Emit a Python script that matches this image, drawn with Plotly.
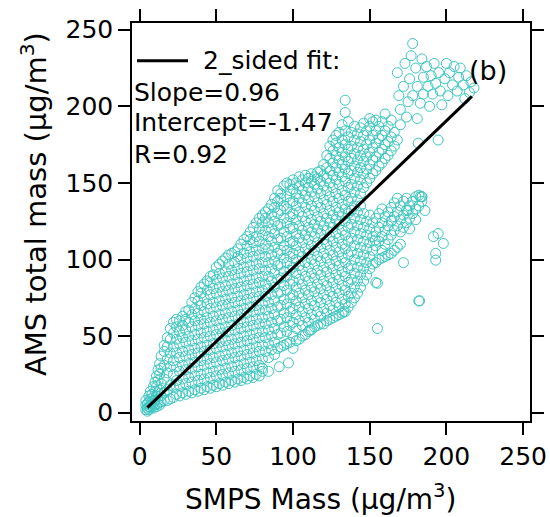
import plotly.graph_objects as go

# ---------------- data ----------------
# SMPS mass (x) values, one per column of the point cloud
smps_cols = [4, 5, 6, 7, 8, 9, 10, 11, 12, 13, 14, 16, 18, 20, 22, 24, 26, 28, 30, 32,
             34, 36, 38, 40, 42, 44, 46, 48, 50, 52, 54, 56, 58, 60, 62, 64, 66, 68, 70, 72,
             74, 76, 78, 80, 82, 84, 86, 88, 90, 92, 94, 96, 98, 100, 102, 104, 106, 108, 110, 112,
             114, 116, 118, 120, 122, 124, 126, 128, 130, 132, 134, 136, 138, 140, 142, 144, 146, 148, 150, 152,
             154, 156, 158, 160, 162, 164, 166, 168, 170, 172, 174, 176, 178, 180, 182, 184, 186]
# AMS total mass (y) values for each column above
ams_cols = [
    [2, 5, 8], [3, 6, 1], [2, 4, 7, 11], [3, 5, 9, 14], [4, 7, 12], [3, 6, 10, 17],
    [5, 8, 14, 20], [4, 11, 17, 24], [6, 9, 13, 21, 28], [5, 15, 25, 32], [7, 11, 19, 29, 37],
    [8, 13, 22, 31, 40, 44], [8, 15, 26, 35, 43, 49], [9, 18, 30, 39, 48, 55],
    [10, 17, 25, 34, 43, 52, 59], [12, 21, 30, 39, 48, 56, 61],
    [11, 18, 27, 36, 45, 53, 60], [13, 22, 31, 40, 49, 57, 63],
    [12, 19, 28, 37, 46, 54, 61, 66], [14, 23, 32, 41, 50, 59, 67],
    [13, 20, 29, 38, 47, 56, 64, 72], [15, 24, 33, 42, 51, 60, 68, 75],
    [14, 21, 30, 39, 48, 57, 65, 73, 79], [16, 25, 34, 43, 52, 61, 70, 78, 82],
    [15, 22, 31, 40, 49, 58, 66, 75, 84], [17, 26, 35, 44, 53, 62, 71, 80, 86],
    [16, 23, 32, 41, 50, 59, 68, 77, 85, 89], [18, 27, 36, 45, 54, 63, 72, 81, 90],
    [17, 24, 33, 42, 51, 60, 69, 78, 87, 95], [19, 28, 37, 46, 55, 64, 73, 82, 91, 97],
    [18, 25, 34, 43, 52, 61, 70, 79, 88, 99], [20, 29, 38, 47, 56, 65, 74, 83, 92, 101],
    [19, 26, 35, 44, 53, 62, 71, 80, 89, 97, 103], [21, 30, 39, 48, 57, 66, 75, 84, 93, 104],
    [20, 27, 36, 45, 54, 63, 72, 81, 90, 98, 105], [22, 31, 40, 49, 58, 67, 76, 85, 94, 102, 107],
    [21, 28, 37, 46, 55, 64, 73, 82, 91, 100, 110], [23, 32, 41, 50, 59, 68, 77, 86, 95, 104, 113],
    [22, 29, 38, 47, 56, 65, 74, 83, 92, 101, 109, 115], [24, 33, 42, 51, 60, 69, 78, 87, 96, 105, 113, 118],
    [23, 30, 39, 48, 57, 66, 75, 84, 93, 102, 111, 121], [25, 34, 43, 52, 61, 70, 79, 88, 97, 106, 115, 124],
    [24, 31, 40, 49, 58, 67, 76, 85, 94, 103, 112, 120, 127], [27, 35, 44, 53, 62, 71, 80, 89, 98, 107, 116, 124, 129],
    [40, 49, 58, 67, 76, 84, 93, 102, 110, 119, 127, 131], [36, 45, 54, 63, 72, 81, 89, 98, 107, 115, 124, 133],
    [41, 50, 59, 68, 77, 86, 94, 103, 112, 120, 129, 136], [38, 46, 55, 64, 73, 82, 91, 99, 108, 117, 125, 134, 140],
    [42, 51, 60, 69, 78, 87, 96, 104, 113, 122, 130, 138, 145], [43, 52, 61, 70, 79, 88, 97, 106, 114, 123, 132, 140, 143],
    [44, 56, 65, 74, 83, 92, 101, 109, 118, 127, 135, 148], [45, 53, 62, 71, 80, 89, 98, 106, 115, 124, 133, 141, 150],
    [46, 57, 66, 75, 84, 93, 102, 111, 120, 128, 137, 145, 149], [42, 50, 59, 68, 77, 86, 95, 104, 112, 121, 130, 138, 146, 152],
    [47, 55, 64, 73, 82, 91, 100, 109, 117, 126, 135, 143, 150], [48, 60, 69, 78, 87, 96, 105, 114, 122, 131, 140, 148, 154],
    [50, 57, 66, 75, 84, 93, 102, 111, 119, 128, 137, 145, 152], [51, 62, 71, 80, 89, 98, 107, 116, 125, 134, 142, 150, 155],
    [53, 59, 68, 77, 86, 95, 104, 113, 121, 130, 139, 147, 153], [54, 64, 73, 82, 91, 100, 109, 118, 126, 135, 144, 151, 156],
    [56, 61, 70, 79, 88, 97, 106, 115, 123, 132, 141, 149, 154], [57, 66, 75, 84, 93, 102, 111, 120, 128, 137, 146, 153, 157],
    [58, 63, 72, 81, 90, 99, 108, 117, 125, 134, 143, 151, 158], [58, 68, 77, 86, 95, 104, 113, 122, 130, 139, 148, 155, 162],
    [60, 65, 74, 83, 92, 101, 110, 119, 127, 136, 145, 153, 160, 168], [61, 70, 79, 88, 97, 106, 115, 124, 132, 141, 150, 158, 166, 174],
    [62, 67, 76, 85, 94, 103, 112, 121, 129, 138, 147, 155, 163, 171, 178], [63, 72, 81, 90, 99, 108, 117, 126, 134, 143, 152, 160, 168, 176, 181],
    [64, 69, 78, 87, 96, 105, 114, 123, 131, 140, 149, 157, 165, 173, 183], [65, 74, 83, 92, 101, 110, 119, 128, 136, 145, 154, 162, 170, 178, 188],
    [66, 71, 80, 89, 98, 107, 116, 125, 133, 142, 151, 159, 167, 175, 184, 196, 204], [69, 76, 85, 94, 103, 112, 121, 130, 138, 147, 156, 164, 172, 180, 190],
    [72, 78, 87, 96, 105, 114, 123, 132, 140, 149, 158, 166, 174, 183], [75, 82, 91, 100, 109, 118, 127, 135, 144, 153, 161, 169, 178, 187],
    [78, 86, 95, 104, 113, 122, 131, 139, 148, 157, 165, 173, 182], [82, 90, 99, 108, 117, 126, 135, 143, 152, 160, 168, 177, 186],
    [86, 94, 103, 112, 121, 130, 147, 156, 164, 172, 181, 189], [90, 98, 107, 116, 125, 150, 159, 167, 175, 184],
    [94, 102, 111, 120, 129, 153, 162, 170, 178, 187, 192], [97, 106, 115, 124, 156, 165, 173, 181, 190],
    [85, 98, 109, 118, 127, 158, 167, 176, 184, 191], [100, 112, 121, 130, 161, 170, 179, 187],
    [101, 106, 115, 124, 133, 163, 172, 181, 190], [102, 110, 119, 128, 166, 175, 184, 195],
    [103, 113, 122, 131, 168, 177, 187], [104, 116, 125, 134, 171, 180, 191],
    [106, 119, 128, 137, 174, 183], [108, 122, 131, 140, 178],
    [110, 118, 126, 135], [98, 121, 129, 138], [124, 132, 140], [120, 127, 135],
    [130, 138], [126, 133, 141], [135, 73, 142], [138, 141], [132],
]

# upper-right group of points
smps_top_group = [168, 169, 170, 172, 173, 175, 176, 177, 178, 178, 180, 181, 181, 183, 184, 185,
                  185, 187, 188, 189, 190, 191, 192, 193, 195, 196, 197, 199, 200, 201, 202, 204,
                  205, 207, 208, 209, 211, 212, 213, 215, 216, 218, 170, 174]
ams_top_group = [222, 207, 198, 213, 228, 203, 218, 233, 241, 207, 225, 213, 192, 202, 231, 219,
                 208, 226, 213, 200, 220, 208, 228, 215, 222, 210, 201, 218, 228, 207, 222, 214,
                 226, 210, 219, 225, 214, 205, 220, 209, 216, 212, 188, 193]

# isolated points
smps_isolated = [80, 84, 91, 97, 155, 155, 182.5, 193, 193, 191.6, 198, 194.6, 181.6, 194.6,
                 183, 133, 111, 175, 164.5, 153.6, 184]
ams_isolated = [29, 27, 30, 32.5, 84.5, 55, 73, 99.6, 104, 115, 110.5, 117, 176, 178,
                141, 66, 54, 132, 125.7, 112.7, 141]

# two-sided fit results
fit_slope = 0.96
fit_intercept = -1.47
fit_r = 0.92
fit_smps_ends = [5, 216.6]

x_ticks = [0, 50, 100, 150, 200, 250]
y_ticks = [0, 50, 100, 150, 200, 250]

# ---------------- build ----------------
smps, ams = [], []
for xv, ys in zip(smps_cols, ams_cols):
    smps += [xv] * len(ys)
    ams += ys
smps += smps_top_group + smps_isolated
ams += ams_top_group + ams_isolated

fit_ams = [fit_slope * v + fit_intercept for v in fit_smps_ends]

CYAN = "#3ec6c1"
FONT = "DejaVu Sans"

fig = go.Figure()
fig.add_trace(go.Scatter(
    x=smps, y=ams, mode="markers",
    marker=dict(symbol="circle-open", size=10, color=CYAN, line=dict(width=1, color=CYAN)),
    showlegend=False, hoverinfo="skip"))
fig.add_trace(go.Scatter(
    x=fit_smps_ends, y=fit_ams, mode="lines",
    line=dict(color="black", width=3), name="2_sided fit:", showlegend=False))

L, R, T, B = 132, 20, 23, 96
W, H = 550, 517
PW, PH = W - L - R, H - T - B


def px(xp):
    return (xp - L) / PW


def py(yp):
    return (H - B - yp) / PH


axis_common = dict(
    showline=True, linewidth=1.5, linecolor="black", mirror="ticks",
    ticks="outside", ticklen=12, tickwidth=1.5, tickcolor="black",
    showgrid=False, zeroline=False, automargin=False,
    tickfont=dict(family=FONT, size=25, color="black"),
)
fig.update_xaxes(range=[-5, 254.5], tickvals=x_ticks, **axis_common)
fig.update_yaxes(range=[-5.4, 254.4], tickvals=y_ticks, **axis_common)

ann = []
txt_font = dict(family=FONT, size=25, color="black")
ann.append(dict(text="2_sided fit:", x=px(201), y=py(60), xanchor="left", yanchor="middle"))
ann.append(dict(text=f"Slope={fit_slope:.2f}", x=px(132), y=py(92), xanchor="left", yanchor="middle"))
ann.append(dict(text=f"Intercept={fit_intercept:.2f}", x=px(132), y=py(123), xanchor="left", yanchor="middle"))
ann.append(dict(text=f"R={fit_r:.2f}", x=px(132), y=py(154), xanchor="left", yanchor="middle"))
ann.append(dict(text="(b)", x=px(488), y=py(70), xanchor="center", yanchor="middle",
                font=dict(family=FONT, size=27, color="black")))
ann.append(dict(text="SMPS Mass (µg/m<sup>3</sup>)", x=px(321), y=py(497), xanchor="center", yanchor="middle",
                font=dict(family=FONT, size=28, color="black")))
ann.append(dict(text="AMS total mass (µg/m<sup>3</sup>)", x=px(34), y=py(204), xanchor="center", yanchor="middle",
                textangle=-90, font=dict(family=FONT, size=29, color="black")))
for a in ann:
    a.setdefault("font", txt_font)
    a.update(xref="paper", yref="paper", showarrow=False)

fig.update_layout(
    width=W, height=H, autosize=False,
    margin=dict(l=L, r=R, t=T, b=B, autoexpand=False),
    paper_bgcolor="white", plot_bgcolor="white",
    font=dict(family=FONT, size=25, color="black"),
    annotations=ann,
    shapes=[dict(type="line", xref="paper", yref="paper",
                 x0=px(137), x1=px(188), y0=py(60.7), y1=py(60.7),
                 line=dict(color="black", width=3))],
    showlegend=False,
)

fig.write_html("out.html", config={"responsive": False})
